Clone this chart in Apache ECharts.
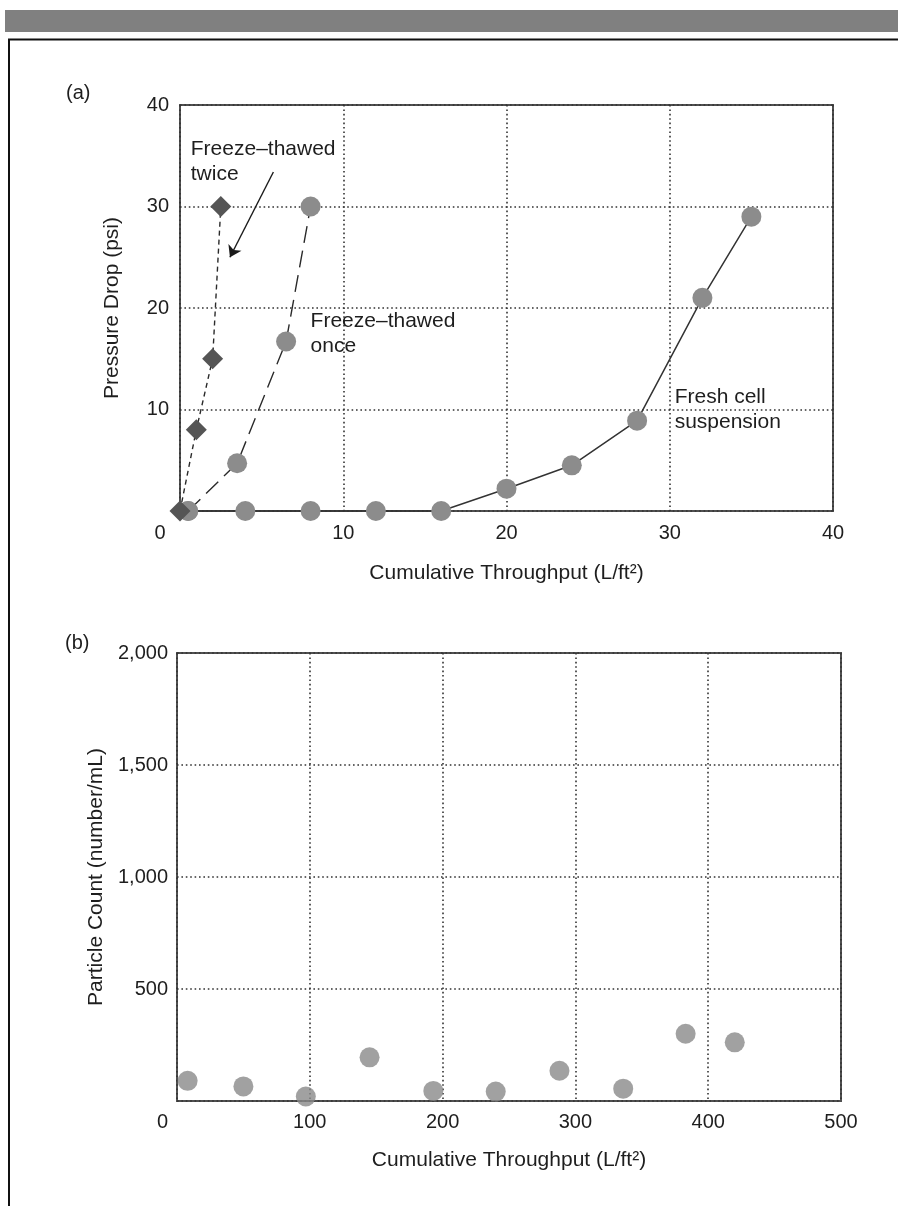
<!DOCTYPE html>
<html>
<head>
<meta charset="utf-8">
<script src="https://cdn.jsdelivr.net/npm/echarts@6/dist/echarts.min.js"></script>
<style>
  html, body { margin: 0; padding: 0; background: #fff; }
  #chart { width: 898px; height: 1206px; }
</style>
</head>
<body>
<div id="chart"></div>
<script>
// Panel (a): pressure drop vs cumulative throughput
const twiceX = [0, 1, 2, 2.5];
const twiceY = [0, 8, 15, 30];
const onceX = [0.5, 3.5, 6.5, 8];
const onceY = [0, 4.7, 16.7, 30];
const freshX = [0.5, 4, 8, 12, 16, 20, 24, 28, 32, 35];
const freshY = [0, 0, 0, 0, 0, 2.2, 4.5, 8.9, 21, 29];

// Panel (b): particle count vs cumulative throughput
const particleX = [8, 50, 97, 145, 193, 240, 288, 336, 383, 420];
const particleY = [90, 65, 20, 195, 45, 42, 135, 55, 300, 262];

// Axis ranges / tick steps
const pressureTicks = { min: 0, max: 40, step: 10 };
const throughputTicksA = { min: 0, max: 40, step: 10 };
const countTicks = { min: 0, max: 2000, step: 500 };
const throughputTicksB = { min: 0, max: 500, step: 100 };

// Text annotations in panel (a), anchored in data units (left edge, vertical middle)
const notesA = [
  { lines: ['Freeze\u2013thawed', 'twice'], at: [0.66, 34.4] },
  { lines: ['Freeze\u2013thawed', 'once'], at: [8.0, 17.5] },
  { lines: ['Fresh cell', 'suspension'], at: [30.3, 10.0] }
];
const arrowA = [[5.72, 33.4], [3.06, 25.0]];

const xTitle = 'Cumulative Throughput (L/ft\u00B2)';
const FONT = '"Liberation Sans", Arial, Helvetica, sans-serif';
const TXT = '#1e1e1e';

const pairs = (xs, ys) => xs.map((x, i) => [x, ys[i]]);

const gridLine = { show: true, lineStyle: { color: '#333', width: 1.6, type: [1.6, 2.8] } };

function xAxis(gridIndex, t, zeroPad, gap, margin) {
  return {
    type: 'value', gridIndex, min: t.min, max: t.max, interval: t.step,
    axisLine: { show: false }, axisTick: { show: false },
    splitLine: gridLine,
    axisLabel: {
      color: TXT, fontSize: 20, fontFamily: FONT, margin,
      formatter: v => v === 0 ? '{z|0}' : String(v),
      rich: { z: { fontSize: 20, fontFamily: FONT, color: TXT, padding: [0, zeroPad, 0, 0] } }
    },
    name: xTitle, nameLocation: 'middle', nameGap: gap,
    nameTextStyle: { color: TXT, fontSize: 21, fontFamily: FONT }
  };
}

function yAxis(gridIndex, t, name, gap, margin, fmt) {
  return {
    type: 'value', gridIndex, min: t.min, max: t.max, interval: t.step,
    axisLine: { show: false }, axisTick: { show: false },
    splitLine: gridLine,
    axisLabel: {
      color: TXT, fontSize: 20, fontFamily: FONT, margin,
      formatter: v => v === 0 ? '' : fmt(v)
    },
    name, nameLocation: 'middle', nameGap: gap,
    nameTextStyle: { color: TXT, fontSize: 21, fontFamily: FONT }
  };
}

const chart = echarts.init(document.getElementById('chart'), null, { renderer: 'canvas' });

const option = {
  animation: false,
  backgroundColor: '#fff',
  grid: [
    { left: 180, top: 105, width: 653, height: 406, show: true, borderColor: '#505050', borderWidth: 2, backgroundColor: 'transparent' },
    { left: 177, top: 653, width: 664, height: 448, show: true, borderColor: '#505050', borderWidth: 2, backgroundColor: 'transparent' }
  ],
  xAxis: [
    xAxis(0, throughputTicksA, 40, 52, 12),
    xAxis(1, throughputTicksB, 29, 49, 11)
  ],
  yAxis: [
    yAxis(0, pressureTicks, 'Pressure Drop (psi)', 57, 11, v => String(v)),
    yAxis(1, countTicks, 'Particle Count (number/mL)', 68, 9, v => v.toLocaleString('en-US'))
  ],
  series: [
    {
      name: 'Fresh cell suspension', type: 'line', xAxisIndex: 0, yAxisIndex: 0,
      data: pairs(freshX, freshY), clip: false,
      symbol: 'circle', symbolSize: 20,
      itemStyle: { color: '#8c8c8c' },
      lineStyle: { color: '#333', width: 1.5 }
    },
    {
      name: 'Freeze-thawed once', type: 'line', xAxisIndex: 0, yAxisIndex: 0,
      data: pairs(onceX, onceY), clip: false,
      symbol: 'circle', symbolSize: 20,
      itemStyle: { color: '#8c8c8c' },
      lineStyle: { color: '#2a2a2a', width: 1.4, type: [17, 8] }
    },
    {
      name: 'Freeze-thawed twice', type: 'line', xAxisIndex: 0, yAxisIndex: 0,
      data: pairs(twiceX, twiceY), clip: false,
      symbol: 'diamond', symbolSize: 21,
      itemStyle: { color: '#555555' },
      lineStyle: { color: '#2a2a2a', width: 1.4, type: [5, 4] },
      markLine: {
        silent: true, symbol: ['none', 'arrow'], symbolSize: 11,
        label: { show: false },
        itemStyle: { color: '#1a1a1a' },
        lineStyle: { color: '#1a1a1a', width: 1.4, type: 'solid' },
        data: [[{ coord: arrowA[0] }, { coord: arrowA[1] }]]
      }
    },
    {
      name: 'Particle count', type: 'scatter', xAxisIndex: 1, yAxisIndex: 1,
      data: pairs(particleX, particleY), clip: false,
      symbol: 'circle', symbolSize: 20,
      itemStyle: { color: '#8a8a8a' }
    }
  ]
};

chart.setOption(option);

// Page frame, panel letters and in-plot annotations
const graphics = [
  { type: 'rect', shape: { x: 5, y: 10, width: 893, height: 22 }, style: { fill: '#808080' }, silent: true },
  { type: 'polyline', shape: { points: [[9, 1206], [9, 39.5], [898, 39.5]] }, style: { stroke: '#111', lineWidth: 2, fill: null }, silent: true },
  { type: 'text', style: { text: '(a)', x: 66, y: 93, fontSize: 20, fontFamily: FONT, fill: TXT, verticalAlign: 'middle' } },
  { type: 'text', style: { text: '(b)', x: 65, y: 643, fontSize: 20, fontFamily: FONT, fill: TXT, verticalAlign: 'middle' } }
];
notesA.forEach(n => {
  const p = chart.convertToPixel({ gridIndex: 0 }, n.at);
  graphics.push({
    type: 'text', z: 10,
    style: { text: n.lines.join('\n'), x: p[0], y: p[1], fontSize: 21, fontFamily: FONT, fill: TXT,
             verticalAlign: 'middle', align: 'left', lineHeight: 25 }
  });
});
chart.setOption({ graphic: graphics });
</script>
</body>
</html>
